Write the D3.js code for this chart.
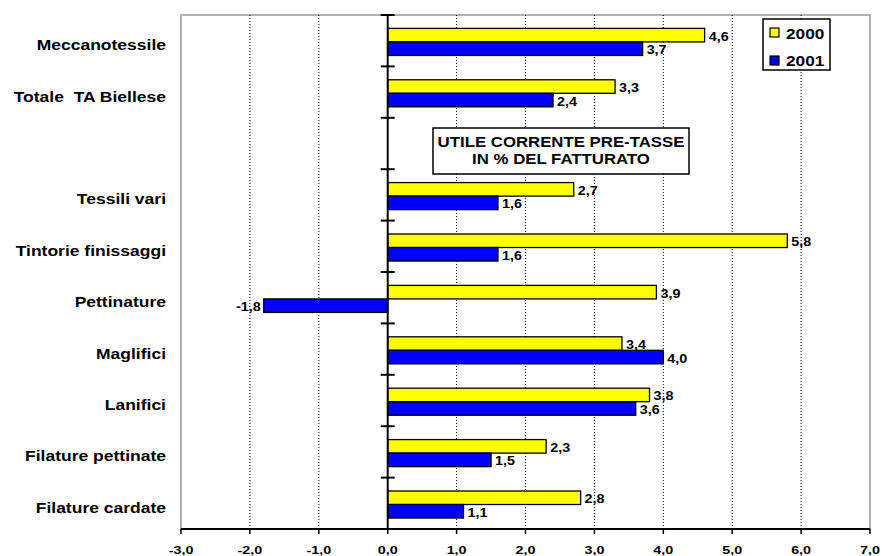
<!DOCTYPE html>
<html>
<head>
<meta charset="utf-8">
<script src="https://cdn.jsdelivr.net/npm/d3@7"></script>
<style>
  body { margin: 0; background: #fff; }
  text { font-family: "Liberation Sans", Arial, sans-serif; font-weight: bold; fill: #000; white-space: pre; }
</style>
</head>
<body>
<div id="chart"></div>
<script>
// categories top to bottom (third slot is empty, the title box sits there)
const categories = ["Meccanotessile", "Totale  TA Biellese", "", "Tessili vari", "Tintorie finissaggi",
  "Pettinature", "Maglifici", "Lanifici", "Filature pettinate", "Filature cardate"]
const series = ["2000", "2001"]
const values2000 = [4.6, 3.3, null, 2.7, 5.8, 3.9, 3.4, 3.8, 2.3, 2.8]
const values2001 = [3.7, 2.4, null, 1.6, 1.6, -1.8, 4.0, 3.6, 1.5, 1.1]
const xTicks = [-3, -2, -1, 0, 1, 2, 3, 4, 5, 6, 7]
const titleLines = ["UTILE CORRENTE PRE-TASSE", "IN % DEL FATTURATO"]
const colors = {"2000": "#ffff00", "2001": "#0000ff"}

const width = 882, height = 556
const plot = {left: 181, right: 870, top: 15, bottom: 529}

const svg = d3.select("#chart").append("svg")
  .attr("width", width)
  .attr("height", height)

const xScale = d3.scaleLinear().domain([-3, 7]).range([plot.left, plot.right])
const yScale = d3.scaleBand().domain(d3.range(categories.length)).range([plot.top, plot.bottom])
const inner = d3.scaleBand().domain(series).range([0, yScale.bandwidth()]).paddingOuter(0.9).align(0.55)

// comma decimals, plain hyphen for negatives
const fmt = v => d3.format(".1f")(v).replace(".", ",").replace("\u2212", "-")

// stretched text helper (the original fonts render wider than Arial)
function label(g, x, y, str, size, sx, anchor) {
  return g.append("text")
    .attr("transform", `translate(${x},${y}) scale(${sx},1)`)
    .attr("text-anchor", anchor)
    .style("font-size", size + "px")
    .text(str)
}

// plot border (grey) on top, left, right
svg.append("path")
  .attr("d", `M${plot.left},${plot.bottom}V${plot.top}H${plot.right}V${plot.bottom}`)
  .attr("fill", "none")
  .attr("stroke", "#999")
  .attr("stroke-width", 1.5)

// dotted gridlines
svg.selectAll(".grid")
  .data(xTicks.filter(t => t !== 0 && t !== -3 && t !== 7))
  .enter().append("line")
  .attr("x1", d => xScale(d)).attr("x2", d => xScale(d))
  .attr("y1", plot.top).attr("y2", plot.bottom)
  .attr("stroke", "#000")
  .attr("stroke-width", 1)
  .attr("stroke-dasharray", "1,2")

// bars
const rows = categories.map((c, i) => ({i, v: {"2000": values2000[i], "2001": values2001[i]}}))
const bars = []
rows.forEach(r => series.forEach(s => {
  if (r.v[s] != null) bars.push({i: r.i, s, v: r.v[s]})
}))

svg.selectAll(".bar")
  .data(bars)
  .enter().append("rect")
  .attr("x", d => xScale(Math.min(0, d.v)))
  .attr("width", d => Math.abs(xScale(d.v) - xScale(0)))
  .attr("y", d => yScale(d.i) + inner(d.s))
  .attr("height", inner.bandwidth())
  .attr("fill", d => colors[d.s])
  .attr("stroke", "#000")
  .attr("stroke-width", 1.3)

// value labels
const labels = svg.append("g")
bars.forEach(d => {
  const y = yScale(d.i) + inner(d.s) + inner.bandwidth() / 2 + 5.5
  if (d.v >= 0) label(labels, xScale(d.v) + 4, y, fmt(d.v), 12.5, 1.15, "start")
  else label(labels, xScale(d.v) - 3, y, fmt(d.v), 12.5, 1.15, "end")
})

// vertical axis at zero
const zero = xScale(0)
svg.append("line")
  .attr("x1", zero).attr("x2", zero)
  .attr("y1", plot.top).attr("y2", plot.bottom)
  .attr("stroke", "#000").attr("stroke-width", 2)
svg.selectAll(".ytick")
  .data(d3.range(categories.length + 1))
  .enter().append("line")
  .attr("x1", zero - 7).attr("x2", zero + 7)
  .attr("y1", d => plot.top + d * yScale.step())
  .attr("y2", d => plot.top + d * yScale.step())
  .attr("stroke", "#000").attr("stroke-width", 2)

// category labels
const cats = svg.append("g")
categories.forEach((c, i) => {
  if (c) label(cats, 166, yScale(i) + yScale.bandwidth() / 2 + 9.5, c, 15.5, 1.13, "end")
})

// bottom axis
svg.append("line")
  .attr("x1", plot.left).attr("x2", plot.right)
  .attr("y1", plot.bottom).attr("y2", plot.bottom)
  .attr("stroke", "#000").attr("stroke-width", 2)
const xt = svg.append("g")
xTicks.forEach(t => {
  xt.append("line")
    .attr("x1", xScale(t)).attr("x2", xScale(t))
    .attr("y1", plot.bottom).attr("y2", plot.bottom + 5)
    .attr("stroke", "#000").attr("stroke-width", 1.5)
  label(xt, xScale(t), 554, fmt(t), 11.5, 1.25, "middle")
})

// title box
const tb = {x: 433, y: 128, w: 256, h: 46}
svg.append("rect")
  .attr("x", tb.x).attr("y", tb.y).attr("width", tb.w).attr("height", tb.h)
  .attr("fill", "#fff").attr("stroke", "#000").attr("stroke-width", 1.5)
const tg = svg.append("g")
titleLines.forEach((t, k) => {
  label(tg, tb.x + tb.w / 2, 146.5 + k * 17.5, t, 15, 1.12, "middle")
})

// legend
const lg = svg.append("g")
lg.append("rect")
  .attr("x", 763).attr("y", 19).attr("width", 67).attr("height", 51)
  .attr("fill", "#fff").attr("stroke", "#000").attr("stroke-width", 1.5)
series.forEach((s, k) => {
  lg.append("rect")
    .attr("x", 770).attr("y", 28 + k * 28).attr("width", 9).attr("height", 9)
    .attr("fill", colors[s]).attr("stroke", "#000").attr("stroke-width", 1.2)
  label(lg, 786, 39 + k * 26.5, s, 15.4, 1.12, "start")
})
</script>
</body>
</html>
